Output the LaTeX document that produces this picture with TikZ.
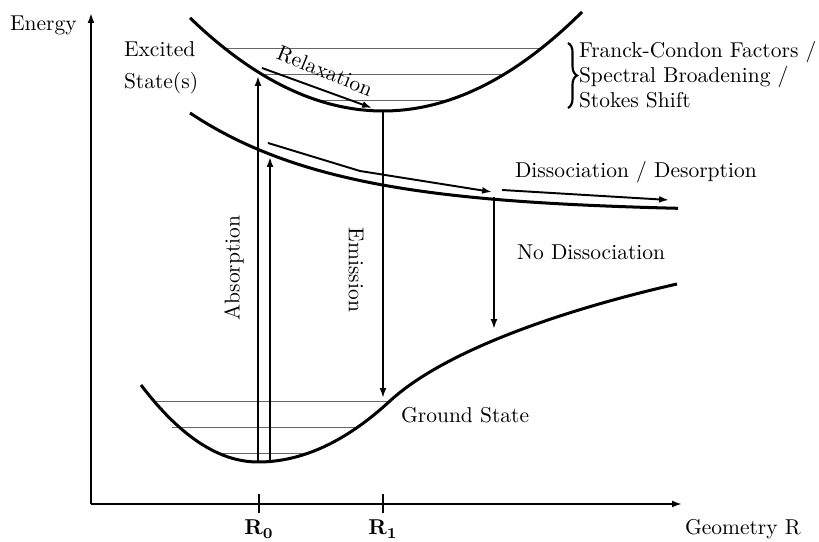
\documentclass[tikz,border=0pt]{standalone}
\usetikzlibrary{arrows.meta,decorations.pathreplacing}
\begin{document}
\begin{tikzpicture}[x=0.4651pt,y=-0.4651pt,
  curve/.style={line width=1.4pt},
  level/.style={line width=0.45pt,black!60},
  arr/.style={line width=0.9pt,-{Latex[length=4.6pt,width=3.2pt]}},
  axis/.style={line width=0.9pt,-{Latex[length=4.6pt,width=3.2pt]}},
  tick/.style={line width=0.9pt},
  lbl/.style={inner sep=0pt,outer sep=0pt},
]
\useasboundingbox (0,0) rectangle (819,542);

% axes
\coordinate (O) at (91,504);
\coordinate (ytop) at (91,13);
\coordinate (xend) at (682,504);
\draw[axis] (O) -- (ytop);
\draw[axis] (O) -- (xend);
\coordinate (t0a) at (259,494); \coordinate (t0b) at (259,513);
\coordinate (t1a) at (383,494); \coordinate (t1b) at (383,513);
\draw[tick] (t0a) -- (t0b);
\draw[tick] (t1a) -- (t1b);

% vibrational levels
\coordinate (g1a) at (153,401); \coordinate (g1b) at (390,401);
\coordinate (g2a) at (172,427); \coordinate (g2b) at (357,427);
\coordinate (g3a) at (218,453); \coordinate (g3b) at (310,453);
\draw[level] (g1a) -- (g1b);
\draw[level] (g2a) -- (g2b);
\draw[level] (g3a) -- (g3b);
\coordinate (e1a) at (225,48); \coordinate (e1b) at (541,48);
\coordinate (e2a) at (262,74); \coordinate (e2b) at (504,74);
\coordinate (e3a) at (317,100); \coordinate (e3b) at (449,100);
\draw[level] (e1a) -- (e1b);
\draw[level] (e2a) -- (e2b);
\draw[level] (e3a) -- (e3b);

% potential curves
\coordinate (gend) at (677,284);
\draw[curve] plot[domain=141:258,samples=50] (\x,{462-(0.075*(\x-258))^2})
  -- plot[domain=258:390,samples=50] (\x,{462-(0.0592*(\x-258))^2})
  .. controls (450,346) and (580,306) .. (gend);
\draw[curve] plot[domain=190:582,samples=80] (\x,{111-(0.05*(\x-383))^2});
\draw[curve] plot[domain=190:678,samples=80] (\x,{212-99*exp(-0.00675*(\x-190))});

% arrows
\coordinate (a1s) at (258,462); \coordinate (a1e) at (258,76);
\coordinate (a2s) at (270,462); \coordinate (a2e) at (270,157);
\draw[arr] (a1s) -- (a1e);
\draw[arr] (a2s) -- (a2e);
\coordinate (ems) at (383,111); \coordinate (eme) at (383,398);
\draw[arr] (ems) -- (eme);
\coordinate (rls) at (262,68); \coordinate (rle) at (372,108);
\draw[arr] (rls) -- (rle);
\coordinate (d1s) at (268,143); \coordinate (d1m) at (360,171); \coordinate (d1e) at (492,192);
\draw[arr] (d1s) -- (d1m) -- (d1e);
\coordinate (d2s) at (502,190); \coordinate (d2e) at (669,200);
\draw[arr] (d2s) -- (d2e);
\coordinate (nds) at (494,197); \coordinate (nde) at (494,329);
\draw[arr] (nds) -- (nde);

% brace
\coordinate (bra) at (568,43); \coordinate (brb) at (568,108);
\draw[line width=1pt,decorate,decoration={brace,amplitude=4.2pt}] (bra) -- (brb);

% labels
\node[lbl,anchor=base west] (energy) at (10,31) {Energy};
\node[lbl,anchor=base west] (geom) at (685,535) {Geometry R};
\node[lbl,anchor=base] (r0) at (259,535) {$\mathbf{R_0}$};
\node[lbl,anchor=base] (r1) at (383,535) {$\mathbf{R_1}$};
\node[lbl,anchor=base west] (exc1) at (124,57) {Excited};
\node[lbl,anchor=base west] (exc2) at (124,89) {State(s)};
\node[lbl,anchor=base west] (fc1) at (579,58) {Franck-Condon Factors /};
\node[lbl,anchor=base west] (fc2) at (579,83) {Spectral Broadening /};
\node[lbl,anchor=base west] (fc3) at (579,108) {Stokes Shift};
\node[lbl,rotate=90] (abs) at (234,268) {Absorption};
\node[lbl,rotate=-90] (emi) at (356,270) {Emission};
\node[lbl,rotate=-22] (relax) at (325,71) {Relaxation};
\node[lbl,anchor=base west] (diss) at (515,178) {Dissociation / Desorption};
\node[lbl,anchor=base west] (nodiss) at (517,260) {No Dissociation};
\node[lbl,anchor=base west] (gs) at (401,423) {Ground State};
\end{tikzpicture}
\end{document}
